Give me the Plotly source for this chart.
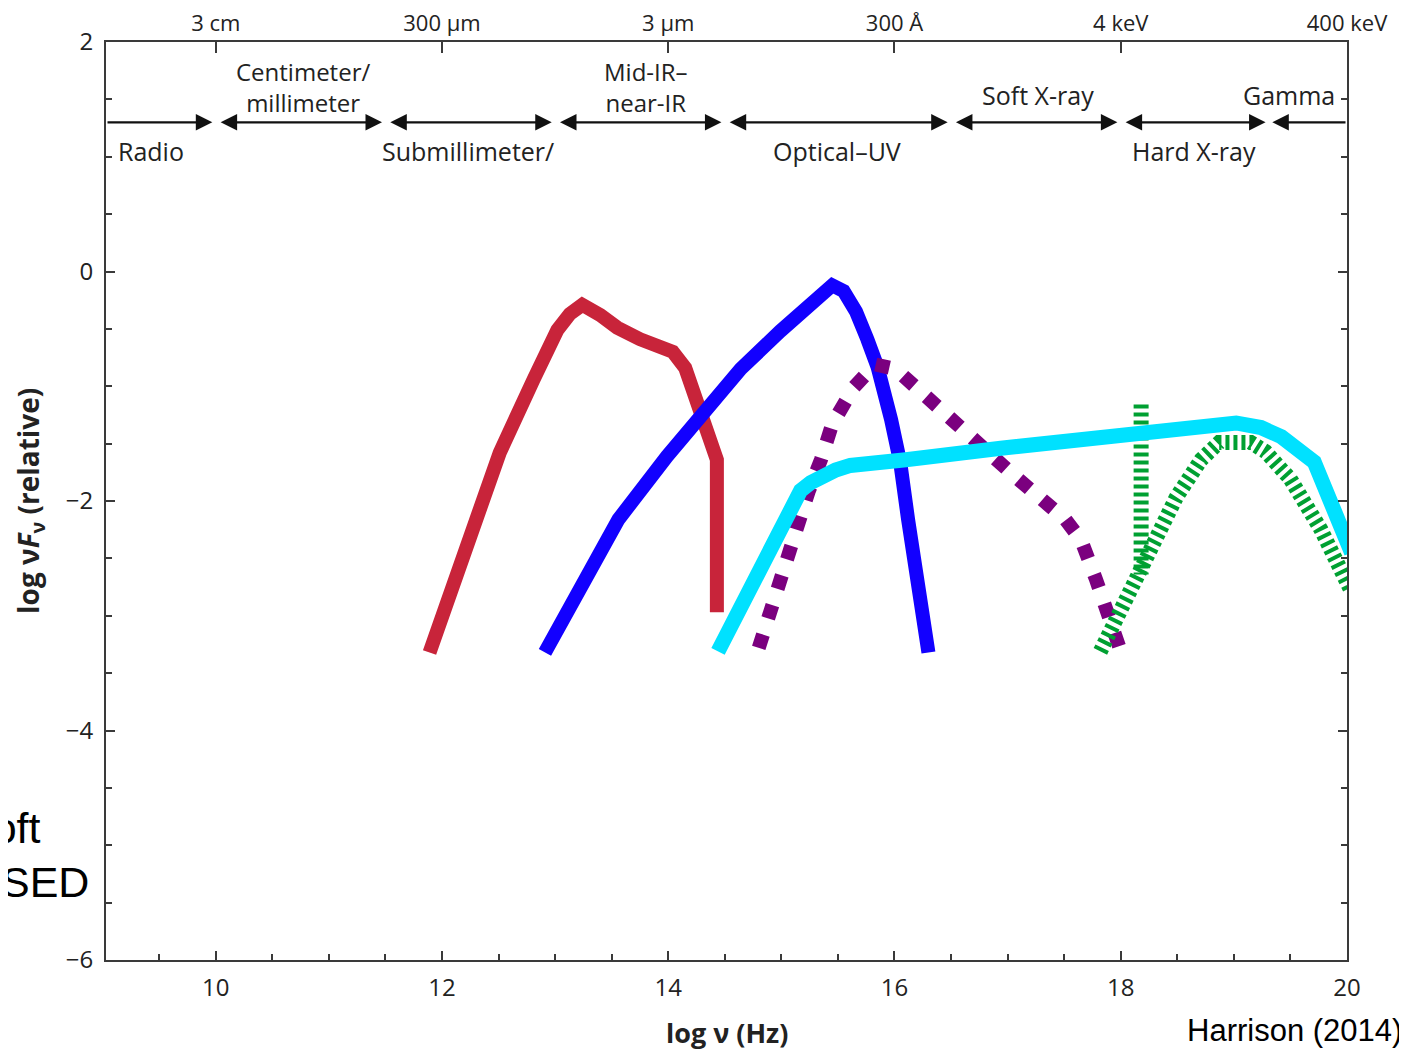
import plotly.graph_objects as go

# ---- data (log nu [Hz], log nuFnu relative) ----
red_x = [11.89, 12.05, 12.22, 12.51, 12.81, 13.02, 13.13, 13.24, 13.40, 13.55, 13.75, 13.93, 14.04, 14.15, 14.28, 14.43, 14.43]
red_y = [-3.32, -2.86, -2.40, -1.58, -0.94, -0.51, -0.37, -0.29, -0.38, -0.49, -0.59, -0.64, -0.70, -0.84, -1.23, -1.64, -2.97]

blue_x = [12.91, 13.04, 13.20, 13.37, 13.56, 13.99, 14.28, 14.64, 14.99, 15.26, 15.36, 15.45, 15.55, 15.66, 15.76, 15.85, 15.97, 16.05, 16.12, 16.21, 16.30]
blue_y = [-3.32, -3.08, -2.77, -2.47, -2.16, -1.61, -1.29, -0.85, -0.52, -0.29, -0.18, -0.12, -0.17, -0.35, -0.59, -0.83, -1.29, -1.66, -2.16, -2.73, -3.32]

cyan_x = [14.44, 14.77, 15.11, 15.17, 15.26, 15.35, 15.48, 15.61, 15.79, 16.10, 16.94, 18.18, 19.02, 19.24, 19.42, 19.71, 20.04]
cyan_y = [-3.31, -2.66, -1.99, -1.91, -1.84, -1.79, -1.73, -1.69, -1.66, -1.64, -1.54, -1.42, -1.32, -1.36, -1.44, -1.66, -2.45]

purple_x = [14.80, 15.06, 15.24, 15.35, 15.45, 15.64, 15.83, 16.01, 16.23, 16.66, 17.07, 17.51, 17.65, 17.78, 17.89, 18.00]
purple_y = [-3.28, -2.45, -1.92, -1.64, -1.33, -1.01, -0.81, -0.85, -1.05, -1.42, -1.79, -2.16, -2.34, -2.68, -2.99, -3.31]

green_v_x = [18.18, 18.18]
green_v_y = [-1.16, -2.64]

green_x = [17.82, 18.00, 18.27, 18.49, 18.71, 18.87, 19.15, 19.28, 19.50, 19.77, 20.04]
green_y = [-3.31, -2.96, -2.42, -1.97, -1.64, -1.49, -1.49, -1.57, -1.81, -2.25, -2.79]

# band boundaries (log nu) and labels
band_edges = [9.03, 10.0, 11.5, 13.0, 14.5, 16.5, 18.0, 19.31, 20.0]
band_labels = ["Radio", "Centimeter/<br>millimeter", "Submillimeter/", "Mid-IR–<br>near-IR",
               "Optical–UV", "Soft X-ray", "Hard X-ray", "Gamma"]
band_label_pos = ["below", "above", "below", "above", "below", "above", "below", "above"]
band_label_x = [9.12, 10.77, 12.23, 13.80, 15.49, 17.27, 18.65, 19.49]
band_y = 1.30

top_tick_vals = [10, 12, 14, 16, 18, 20]
top_tick_text = ["3 cm", "300 µm", "3 µm", "300 Å", "4 keV", "400 keV"]

FONT = "Open Sans"
AX = "#3a3a3a"
TXT = "#222"

fig = go.Figure()

fig.add_trace(go.Scatter(x=red_x, y=red_y, mode="lines",
                         line=dict(color="#C8243A", width=14), showlegend=False))
fig.add_trace(go.Scatter(x=blue_x, y=blue_y, mode="lines",
                         line=dict(color="#1200FF", width=14), showlegend=False))
fig.add_trace(go.Scatter(x=purple_x, y=purple_y, mode="lines",
                         line=dict(color="#7B007F", width=14, dash="14px,17px"), showlegend=False))
fig.add_trace(go.Scatter(x=green_v_x, y=green_v_y, mode="lines",
                         line=dict(color="#00A032", width=15, dash="4px,4px"), showlegend=False))
fig.add_trace(go.Scatter(x=green_x, y=green_y, mode="lines",
                         line=dict(color="#00A032", width=15, dash="4px,4px"), showlegend=False))
fig.add_trace(go.Scatter(x=cyan_x, y=cyan_y, mode="lines",
                         line=dict(color="#00E1FF", width=15), showlegend=False))
# invisible trace for top axis
fig.add_trace(go.Scatter(x=[10, 20], y=[0, 0], xaxis="x2", mode="markers",
                         marker=dict(opacity=0), hoverinfo="skip", showlegend=False))

annotations = []
gap = 0.03
arrow_common = dict(xref="x", yref="y", axref="x", ayref="y", showarrow=True, arrowhead=2,
                    arrowsize=1.5, arrowwidth=2.2, arrowcolor="#111", text="", standoff=0)
for i in range(len(band_labels)):
    x0, x1 = band_edges[i], band_edges[i + 1]
    if i == 0:
        annotations.append(dict(x=x1 - gap, y=band_y, ax=x0, ay=band_y, **arrow_common))
    elif i == len(band_labels) - 1:
        annotations.append(dict(x=x0 + gap, y=band_y, ax=x1, ay=band_y, **arrow_common))
    else:
        annotations.append(dict(x=x1 - gap, y=band_y, ax=x0 + gap, ay=band_y,
                                arrowside="end+start", startarrowhead=2, startarrowsize=1.5,
                                startstandoff=0, **arrow_common))
    above = band_label_pos[i] == "above"
    two_lines = "<br>" in band_labels[i]
    if above:
        dy = 35 if two_lines else 27
    else:
        dy = -29
    annotations.append(dict(x=band_label_x[i], y=band_y, xref="x", yref="y", text=band_labels[i],
                            showarrow=False, yanchor="middle", yshift=dy, align="center",
                            xanchor="left" if i == 0 else "center",
                            font=dict(family=FONT, size=24 if two_lines else 25, color=TXT)))

# axis titles
annotations.append(dict(x=0.5, y=0.0, xref="paper", yref="paper", xanchor="center", yanchor="middle",
                        yshift=-72, text="<b>log ν (Hz)</b>", showarrow=False,
                        font=dict(family=FONT, size=27, color=TXT)))
annotations.append(dict(x=0.0, y=0.5, xref="paper", yref="paper", xanchor="center", yanchor="middle",
                        xshift=-76, text="<b>log ν<i>F</i><sub>ν</sub> (relative)</b>", showarrow=False,
                        textangle=-90, font=dict(family=FONT, size=28, color=TXT)))

annotations.append(dict(x=1.0, y=0.0, xref="paper", yref="paper", xanchor="right", yanchor="middle",
                        text="Harrison (2014)", showarrow=False, xshift=57, yshift=-70,
                        font=dict(family="Liberation Sans", size=31, color="#000")))
annotations.append(dict(x=0.0, y=0.0, xref="paper", yref="paper", xanchor="right", yanchor="middle",
                        text="Soft", showarrow=False, xshift=-106 + 43, yshift=960 - 828,
                        font=dict(family="Liberation Sans", size=43, color="#000")))
annotations.append(dict(x=0.0, y=0.0, xref="paper", yref="paper", xanchor="right", yanchor="middle",
                        text="SED", showarrow=False, xshift=-106 + 91, yshift=960 - 882,
                        font=dict(family="Liberation Sans", size=43, color="#000")))

# page body has an 8px margin, so the figure is offset by (8, 8) in the window
fig.update_layout(
    width=1407, height=1049,
    margin=dict(l=98, r=68, t=34, b=97),
    paper_bgcolor="white", plot_bgcolor="white",
    showlegend=False,
    annotations=annotations,
    xaxis=dict(range=[9.03, 20.0], tickvals=[10, 12, 14, 16, 18, 20], ticks="inside", ticklen=9,
               tickwidth=1.5, tickcolor=AX, showline=True, linecolor=AX, linewidth=2, mirror=True,
               showgrid=False, zeroline=False, automargin=False, ticklabelstandoff=5,
               minor=dict(dtick=0.5, tick0=0, ticks="inside", ticklen=6, tickcolor=AX, showgrid=False),
               tickfont=dict(family=FONT, size=24, color=TXT)),
    xaxis2=dict(range=[9.03, 20.0], overlaying="x", side="top", matches="x",
                tickvals=top_tick_vals, ticktext=top_tick_text, ticks="inside", ticklen=11,
                tickwidth=1.5, tickcolor=AX, showline=False, showgrid=False, zeroline=False,
                automargin=False, ticklabelstandoff=6,
                tickfont=dict(family=FONT, size=22, color=TXT)),
    yaxis=dict(range=[-6, 2], tickvals=[-6, -4, -2, 0, 2], ticks="inside", ticklen=9,
               tickwidth=1.5, tickcolor=AX, showline=True, linecolor=AX, linewidth=2, mirror="ticks",
               showgrid=False, zeroline=False, automargin=False, ticklabelstandoff=6,
               minor=dict(dtick=0.5, tick0=0, ticks="inside", ticklen=6, tickcolor=AX, showgrid=False),
               tickfont=dict(family=FONT, size=24, color=TXT)),
)

fig.write_html("out.html")
